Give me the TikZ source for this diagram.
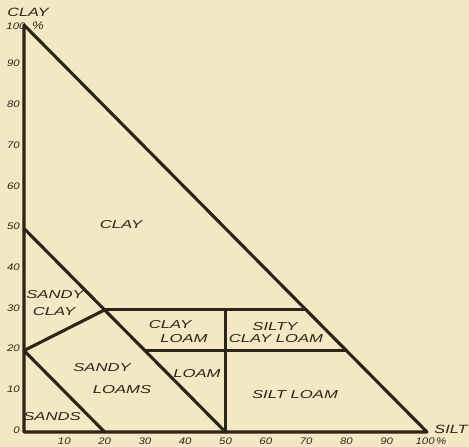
\documentclass[tikz,border=0pt]{standalone}
\usepackage{fontspec}
\setmainfont{Liberation Sans}
\newfontfamily\handreg[FakeStretch=1.45]{Liberation Sans Italic}
\newfontfamily\handtick[FakeStretch=1.2]{Liberation Sans Italic}
\newfontfamily\handaxis[FakeStretch=1.35]{Liberation Sans Italic}
\definecolor{paper}{HTML}{F2E8C3}
\definecolor{ink}{HTML}{2B2517}
\tikzset{
  bound/.style={line width=3.1pt, color=ink, line cap=round, line join=round},
  region/.style={font=\handreg\fontsize{11.5}{12}\selectfont, text=ink, inner sep=0pt},
  tick/.style={font=\handtick\fontsize{9.5}{10}\selectfont, text=ink, inner sep=0pt},
  axisname/.style={font=\handaxis\fontsize{12}{13}\selectfont, text=ink, inner sep=0pt}
}
\begin{document}
\begin{tikzpicture}[x=1pt,y=1pt]
\fill[paper] (0,0) rectangle (469,447);
\useasboundingbox (0,0) rectangle (469,447);
\begin{scope}[shift={(24,15)}, x=4.03pt, y=4.07pt]
  % corner and boundary points (silt, clay)
  \coordinate (o) at (0,0);
  \coordinate (c100) at (0,100);
  \coordinate (s100) at (100,0);
  \coordinate (c50) at (0,50);
  \coordinate (c20) at (0,20);
  \coordinate (s20) at (20,0);
  \coordinate (s50) at (50,0);
  \coordinate (p2030) at (20,30);
  \coordinate (p3020) at (30,20);
  \coordinate (p5030) at (50,30);
  \coordinate (p5020) at (50,20);
  \coordinate (p7030) at (70,30);
  \coordinate (p8020) at (80,20);
  % outline
  \draw[bound] (c100) -- (o) -- (s100) -- cycle;
  % inner boundaries
  \draw[bound] (c50) -- (s50);
  \draw[bound] (c20) -- (s20);
  \draw[bound] (c20) -- (p2030);
  \draw[bound] (p2030) -- (p7030);
  \draw[bound] (p3020) -- (p8020);
  \draw[bound] (s50) -- (p5030);
  % tick labels
  \foreach \v in {0,10,...,90} {
    \node[tick, anchor=east] (yl\v) at ([xshift=-4pt]0,\v+0.5) {\v};
  }
  \foreach \v in {10,20,...,90} {
    \node[tick] (xl\v) at ([yshift=-9pt]\v,0) {\v};
  }
\end{scope}
\node[tick] (xl100) at (431,6) {100\,\%};
\node[tick] (yl100) at (16,421) {100};
\node[tick, font=\handtick\fontsize{11}{12}\selectfont] (ylpc) at (38,421) {\%};
\node[axisname] (clayax) at (28,435) {CLAY};
\node[axisname] (siltax) at (451,18) {SILT};
% region labels
\node[region] (lclay) at (121,222) {CLAY};
\node[region] (lsclay1) at (55,152) {SANDY};
\node[region] (lsclay2) at (54,135) {CLAY};
\node[region] (lsl1) at (102,79) {SANDY};
\node[region] (lsl2) at (122,57) {LOAMS};
\node[region] (lsands) at (52,30) {SANDS};
\node[region] (lcl1) at (170,122) {CLAY};
\node[region] (lcl2) at (184,108) {LOAM};
\node[region] (lloam) at (197,73) {LOAM};
\node[region] (lscl1) at (275,120) {SILTY};
\node[region] (lscl2) at (276,108) {CLAY LOAM};
\node[region] (lsl) at (295,52) {SILT LOAM};
\end{tikzpicture}
\end{document}
